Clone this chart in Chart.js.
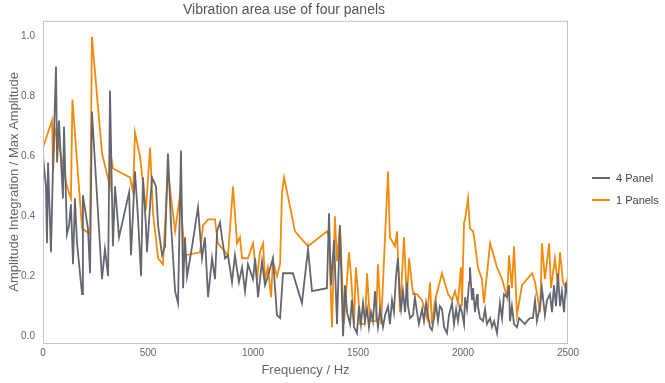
<!DOCTYPE html>
<html>
<head>
<meta charset="utf-8">
<script src="https://cdn.jsdelivr.net/npm/chart.js@4.4.1/dist/chart.umd.min.js"></script>
<style>
  html, body { margin: 0; padding: 0; background: #fff; }
  #wrap { width: 665px; height: 383px; }
</style>
</head>
<body>
<div id="wrap"><canvas id="vib"></canvas></div>
<script>
// 4 panel measurement: frequency (Hz) and normalised amplitude integration
const freq4 = [0, 14, 19, 24, 38, 48, 62, 67, 76, 86, 95, 100, 114, 124, 133, 143, 152, 162, 186, 190,
  214, 224, 233, 281, 295, 310, 319, 333, 343, 362, 410, 419, 438, 452, 467, 476, 490, 495, 519, 538,
  548, 567, 581, 595, 610, 629, 643, 657, 667, 676, 686, 710, 738, 757, 771, 786, 805, 819, 829, 843,
  852, 867, 881, 900, 914, 933, 948, 962, 976, 1000, 1010, 1024, 1043, 1057, 1071, 1095, 1114, 1129, 1143, 1190,
  1233, 1262, 1281, 1352, 1362, 1371, 1386, 1400, 1414, 1429,
  1438, 1448, 1462, 1471, 1481, 1495, 1505, 1514, 1524, 1533,
  1543, 1552, 1562, 1571, 1581, 1590, 1595, 1605, 1619, 1629,
  1643, 1652, 1662, 1671, 1681, 1690, 1700, 1705, 1714, 1724,
  1733, 1738, 1748, 1762, 1771, 1781, 1790, 1805, 1814, 1824,
  1833, 1843, 1852, 1862, 1871, 1881, 1890, 1900, 1910, 1924,
  1933, 1948, 1957, 1967, 1976, 1986, 1995, 2005, 2010, 2019,
  2029, 2033, 2043, 2048, 2057, 2067, 2071, 2081, 2095, 2105,
  2114, 2129, 2138, 2148, 2162, 2176, 2186, 2195, 2210, 2219,
  2224, 2233, 2243, 2257, 2267, 2281, 2295, 2305, 2319, 2333,
  2343, 2352, 2367, 2376, 2390, 2400, 2414, 2424, 2433, 2443,
  2452, 2462, 2471, 2481, 2490, 2500];
const amp4 = [0.60, 0.50, 0.31, 0.58, 0.28, 0.58, 0.90, 0.58, 0.72, 0.58, 0.46, 0.70, 0.34, 0.37, 0.44, 0.24, 0.46, 0.31, 0.14, 0.47,
  0.36, 0.21, 0.75, 0.19, 0.29, 0.20, 0.82, 0.30, 0.50, 0.33, 0.48, 0.27, 0.55, 0.40, 0.20, 0.53, 0.37, 0.28, 0.53, 0.50,
  0.37, 0.27, 0.30, 0.61, 0.37, 0.15, 0.11, 0.62, 0.16, 0.33, 0.20, 0.30, 0.43, 0.26, 0.33, 0.13, 0.26, 0.19, 0.35, 0.38,
  0.33, 0.26, 0.27, 0.18, 0.27, 0.18, 0.23, 0.15, 0.24, 0.19, 0.26, 0.13, 0.25, 0.17, 0.20, 0.26, 0.07, 0.06, 0.21, 0.21,
  0.11, 0.29, 0.15, 0.16, 0.41, 0.17, 0.32, 0.04, 0.37, 0.00,
  0.17, 0.08, 0.04, 0.12, 0.03, 0.01, 0.10, 0.04, 0.11, 0.05,
  0.09, 0.03, 0.08, 0.05, 0.15, 0.06, 0.03, 0.09, 0.03, 0.07,
  0.10, 0.04, 0.12, 0.08, 0.20, 0.26, 0.12, 0.09, 0.15, 0.08,
  0.18, 0.10, 0.06, 0.07, 0.13, 0.08, 0.04, 0.09, 0.05, 0.11,
  0.07, 0.03, 0.02, 0.06, 0.11, 0.05, 0.10, 0.09, 0.03, 0.01,
  0.07, 0.11, 0.04, 0.09, 0.05, 0.10, 0.08, 0.04, 0.13, 0.09,
  0.18, 0.23, 0.12, 0.16, 0.08, 0.14, 0.10, 0.06, 0.05, 0.09,
  0.04, 0.06, 0.03, 0.05, 0.01, 0.11, 0.06, 0.14, 0.13, 0.17,
  0.05, 0.10, 0.04, 0.03, 0.06, 0.05, 0.04, 0.05, 0.06, 0.06,
  0.12, 0.05, 0.10, 0.16, 0.07, 0.12, 0.14, 0.08, 0.17, 0.10,
  0.21, 0.10, 0.15, 0.08, 0.18, 0.12];

// 1 panel measurement
const freq1 = [0, 43, 48, 57, 81, 114, 133, 140, 186, 224, 233, 281, 319, 324, 333, 414, 429, 438, 462, 490,
  510, 524, 548, 571, 595, 629, 652, 676, 748, 762, 786, 819, 833, 881, 905, 924, 938, 948, 976, 986,
  1000, 1019, 1033, 1048, 1057, 1071, 1086, 1095, 1114, 1129, 1138, 1148, 1200, 1262, 1352, 1362, 1376, 1390, 1400, 1414,
  1433, 1457, 1467, 1481, 1490, 1500, 1510, 1533, 1543, 1557, 1586, 1595, 1610, 1643, 1652, 1676, 1686, 1700, 1719, 1733,
  1743, 1762, 1781, 1805, 1829, 1843, 1852, 1867, 1900, 1929, 1948, 1962, 1976, 1990, 1995, 2005, 2010, 2024, 2033, 2048,
  2057, 2071, 2090, 2100, 2129, 2162, 2186, 2210, 2219, 2233, 2243, 2257, 2281, 2329, 2343, 2367, 2376, 2390, 2410, 2419,
  2438, 2452, 2462, 2476, 2490, 2500];
const amp1 = [0.63, 0.72, 0.55, 0.69, 0.62, 0.50, 0.46, 0.79, 0.36, 0.34, 1.00, 0.61, 0.50, 0.60, 0.56, 0.53, 0.48, 0.68, 0.60, 0.42,
  0.63, 0.41, 0.26, 0.24, 0.55, 0.35, 0.47, 0.27, 0.28, 0.37, 0.39, 0.39, 0.31, 0.27, 0.50, 0.31, 0.33, 0.26, 0.26, 0.28,
  0.31, 0.19, 0.28, 0.31, 0.19, 0.23, 0.13, 0.25, 0.20, 0.24, 0.48, 0.53, 0.35, 0.30, 0.35, 0.33, 0.03, 0.40, 0.25, 0.37,
  0.04, 0.28, 0.20, 0.04, 0.23, 0.15, 0.04, 0.04, 0.21, 0.05, 0.05, 0.24, 0.04, 0.55, 0.33, 0.30, 0.35, 0.08, 0.33, 0.12,
  0.26, 0.14, 0.14, 0.12, 0.06, 0.18, 0.04, 0.12, 0.21, 0.14, 0.12, 0.15, 0.11, 0.23, 0.10, 0.38, 0.39, 0.46, 0.36, 0.35,
  0.31, 0.23, 0.19, 0.11, 0.31, 0.23, 0.19, 0.13, 0.27, 0.16, 0.30, 0.07, 0.17, 0.21, 0.18, 0.08, 0.31, 0.19, 0.31, 0.16,
  0.26, 0.17, 0.28, 0.18, 0.16, 0.20];

const xTicks = [0, 500, 1000, 1500, 2000, 2500];
const yTicks = [0, 0.2, 0.4, 0.6, 0.8, 1.0];

const toPoints = (xs, ys) => xs.map((x, i) => ({ x: x, y: ys[i] }));

const txt = '#666';
const frameColor = '#c4c4c4';
const font = '"Liberation Sans", Arial, sans-serif';

// frame round the plot area plus the side legend
const framePlugin = {
  id: 'frame',
  afterDraw(chart) {
    const { ctx, chartArea: a } = chart;
    ctx.save();
    ctx.strokeStyle = frameColor;
    ctx.lineWidth = 1;
    ctx.strokeRect(a.left + 0.5, a.top + 0.5, a.right - a.left - 1, a.bottom - a.top);

    ctx.font = '11px ' + font;
    ctx.textBaseline = 'middle';
    chart.data.datasets.forEach((ds, i) => {
      const y = 178 + i * 22;
      ctx.strokeStyle = ds.borderColor;
      ctx.lineWidth = 2;
      ctx.beginPath();
      ctx.moveTo(592, y);
      ctx.lineTo(610, y);
      ctx.stroke();
      ctx.fillStyle = '#444';
      ctx.fillText(ds.label, 616, y + 1);
    });
    ctx.restore();
  }
};

new Chart(document.getElementById('vib'), {
  type: 'line',
  data: {
    datasets: [{
      label: '4 Panel',
      data: toPoints(freq4, amp4),
      borderColor: '#64676f',
      borderWidth: 1.8,
      pointRadius: 0,
      tension: 0
    }, {
      label: '1 Panels',
      data: toPoints(freq1, amp1),
      borderColor: '#f48a0c',
      borderWidth: 1.8,
      pointRadius: 0,
      tension: 0
    }]
  },
  options: {
    responsive: true,
    maintainAspectRatio: false,
    animation: false,
    layout: { padding: { left: 0, right: 97, top: 0, bottom: 0 } },
    plugins: {
      legend: { display: false },
      tooltip: { enabled: false },
      title: {
        display: true,
        text: 'Vibration area use of four panels',
        color: '#555',
        font: { family: font, size: 14, weight: 'normal' },
        padding: { top: 2, bottom: 2 }
      }
    },
    scales: {
      x: {
        type: 'linear',
        min: 0,
        max: 2500,
        afterBuildTicks: s => { s.ticks = xTicks.map(v => ({ value: v })); },
        afterFit: s => { s.height = 40; },
        grid: { display: false, drawTicks: false },
        border: { display: false },
        ticks: {
          color: txt,
          padding: 4,
          maxRotation: 0,
          font: { family: font, size: 10 },
          callback: v => String(v)
        },
        title: {
          display: true,
          text: 'Frequency / Hz',
          color: txt,
          padding: { top: 5, bottom: 5 },
          font: { family: font, size: 13 }
        }
      },
      y: {
        min: -0.023,
        max: 1.053,
        afterBuildTicks: s => { s.ticks = yTicks.map(v => ({ value: v })); },
        afterFit: s => { s.width = 43; },
        grid: { display: false, drawTicks: false },
        border: { display: false },
        ticks: {
          color: txt,
          padding: 8,
          font: { family: font, size: 10 },
          callback: v => v.toFixed(1)
        },
        title: {
          display: true,
          text: 'Amplitude Integration / Max Amplitude',
          color: txt,
          padding: { top: 7, bottom: 7 },
          font: { family: font, size: 13 }
        }
      }
    }
  },
  plugins: [framePlugin]
});
</script>
</body>
</html>
